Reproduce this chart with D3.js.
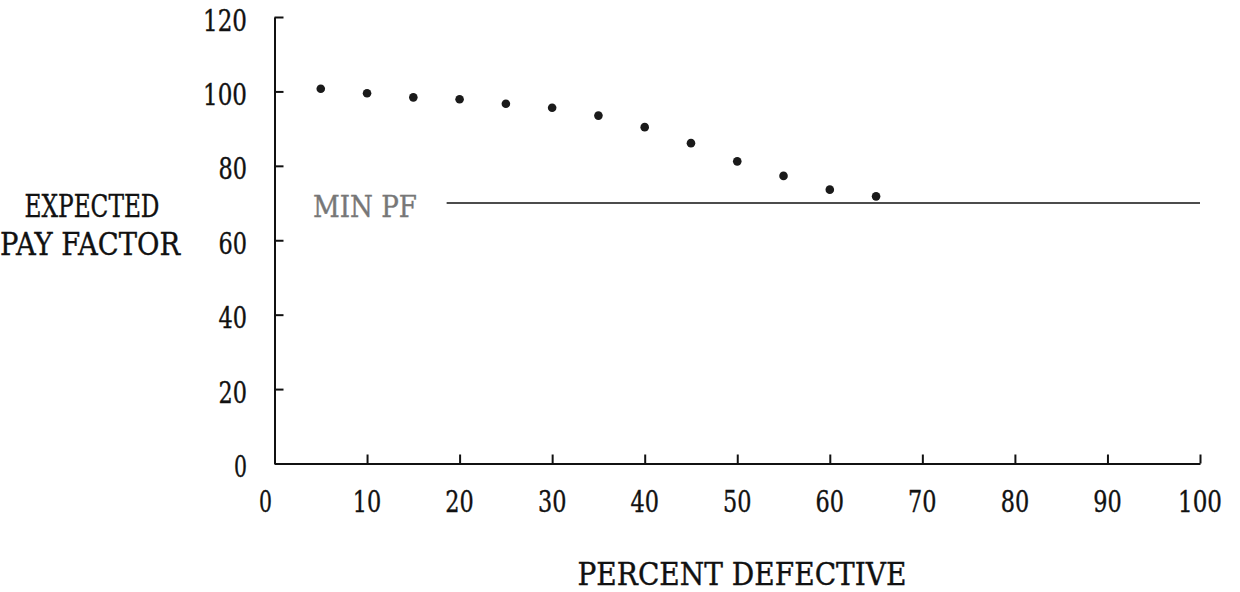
<!DOCTYPE html>
<html>
<head>
<meta charset="utf-8">
<script src="https://cdn.jsdelivr.net/npm/d3@7"></script>
<style>
  body { margin: 0; background: #fff; }
  text { font-family: "DejaVu Serif", "Liberation Serif", serif; fill: #111; stroke-width: 0.4; }
</style>
</head>
<body>
<svg width="1240" height="592"></svg>
<script>
// expected pay factor vs percent defective
let pctDefective = [5, 10, 15, 20, 25, 30, 35, 40, 45, 50, 55, 60, 65];
let payFactor = [100.7, 99.5, 98.4, 97.9, 96.7, 95.6, 93.5, 90.4, 86.1, 81.2, 77.3, 73.6, 71.8];
let xTicks = [0, 10, 20, 30, 40, 50, 60, 70, 80, 90, 100];
let yTicks = [0, 20, 40, 60, 80, 100, 120];
let minPF = 70;
let minLineFrom = 18.6;

let svg = d3.select("svg");

let x = d3.scaleLinear().domain([0, 100]).range([274.5, 1200]);
let y = d3.scaleLinear().domain([0, 120]).range([463.5, 17]);

// plotter font is tall and narrow, so squeeze text to a set width
function label(px, py, str, size, w, anchor, color) {
	svg.append("text")
		.attr("x", px)
		.attr("y", py)
		.attr("text-anchor", anchor)
		.attr("textLength", w)
		.attr("lengthAdjust", "spacingAndGlyphs")
		.style("font-size", size + "px")
		.style("fill", color || "#111")
		.style("stroke", color || "#111")
		.text(str);
}
function numWidth(v) { return String(v).length * 15.5 - 2.5; }

svg.append("g")
	.attr("transform", "translate(" + x(0) + ",0)")
	.call(d3.axisLeft(y).tickValues(yTicks).tickSizeInner(-9).tickSizeOuter(0).tickFormat(""))
	.call(g => g.selectAll("line,path").attr("stroke", "#111").attr("stroke-width", 2));

svg.append("g")
	.attr("transform", "translate(0," + y(0) + ")")
	.call(d3.axisBottom(x).tickValues(xTicks).tickSizeInner(-9).tickSizeOuter(0).tickFormat(""))
	.call(g => g.selectAll("line,path").attr("stroke", "#111").attr("stroke-width", 2));

yTicks.forEach(function(v){
	label(247, y(v) + 13.5, v, 30, numWidth(v), "end");
});
xTicks.forEach(function(v){
	label(x(v) - (v === 0 ? 9 : 0), 512, v, 30, numWidth(v), "middle");
});

label(742, 585, "PERCENT DEFECTIVE", 31, 329, "middle");
label(92, 217, "EXPECTED", 32, 135, "middle");
label(90, 255, "PAY FACTOR", 32, 180, "middle");

// minimum pay factor line
label(313, 217, "MIN PF", 30, 104, "start", "#777");
svg.append("line")
	.attr("x1", x(minLineFrom)).attr("x2", x(100))
	.attr("y1", y(minPF)).attr("y2", y(minPF))
	.attr("stroke", "#111").attr("stroke-width", 1.6);

svg.selectAll("circle.pt")
	.data(pctDefective)
	.enter()
	.append("circle")
	.attr("class", "pt")
	.attr("cx", function(d){ return x(d); })
	.attr("cy", function(d, i){ return y(payFactor[i]); })
	.attr("r", 4.3)
	.attr("fill", "#1a1a1a");
</script>
</body>
</html>
